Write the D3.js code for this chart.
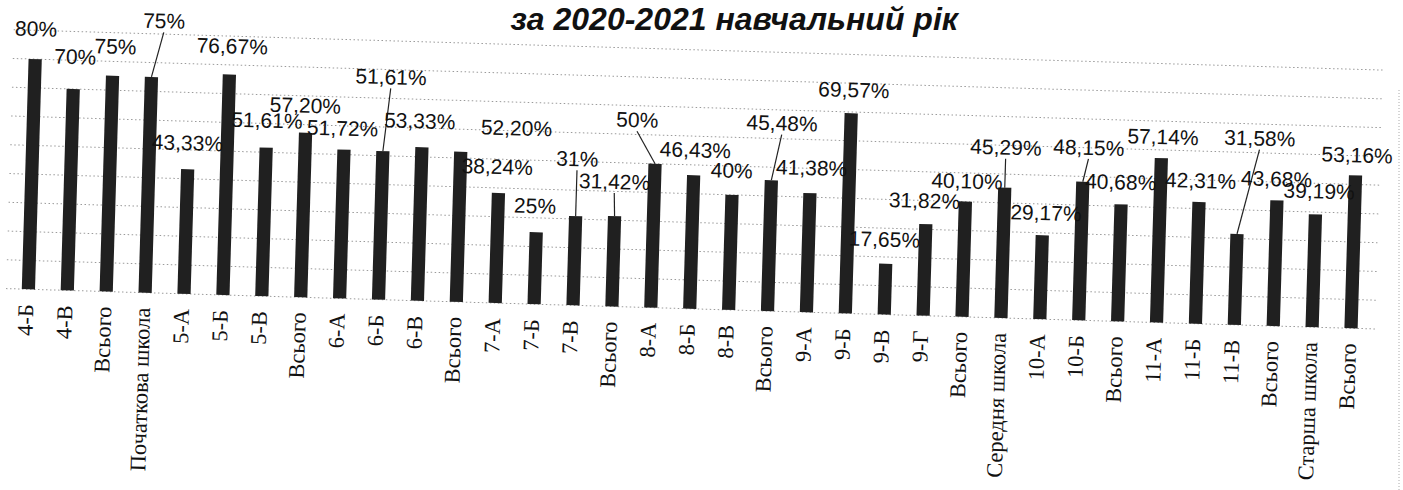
<!DOCTYPE html>
<html><head><meta charset="utf-8">
<script src="https://cdn.jsdelivr.net/npm/d3@7"></script>
<style>html,body{margin:0;padding:0;background:#fff;}svg{display:block;}</style>
</head><body>
<svg id="chart" width="1403" height="490"></svg>
<script>
const categories = ["4-Б","4-В","Всього","Початкова школа","5-А","5-Б","5-В","Всього","6-А","6-Б","6-В","Всього","7-А","7-Б","7-В","Всього","8-А","8-Б","8-В","Всього","9-А","9-Б","9-В","9-Г","Всього","Середня школа","10-А","10-Б","Всього","11-А","11-Б","11-В","Всього","Старша школа","Всього"];
const values = [80,70,75,75,43.33,76.67,51.61,57.20,51.72,51.61,53.33,52.20,38.24,25,31,31.42,50,46.43,40,45.48,41.38,69.57,17.65,31.82,40.10,45.29,29.17,48.15,40.68,57.14,42.31,31.58,43.68,39.19,53.16];
const yTicks = [0,10,20,30,40,50,60,70,80,90];
const titleText = "за 2020-2021 навчальний рік";
// manual label placement (as in the original chart), offsets from bar top
const labelNudge = [[0,-23],[1,-25],[2,-22],[11,-49],[-1,-19],[2,-21],[0,-20],[-1,-20],[-2,-14],[6,-67],[-3,-19],[55,-18],[-2,-19],[-2,-19],[0,-50],[-1,-27],[-19,-36],[1,-18],[-1,-17],[9,-50],[1,-18],[2,-16],[-2,-17],[-2,-16],[1,-13],[0,-33],[3,-15],[5,-27],[-1,-15],[1,-14],[1,-14],[20,-89],[-1,-14],[3,-16],[1,-13]];
const leaders = [3,9,14,15,16,19,25,27,31];

const svg = d3.select("#chart");
const g = svg.append("g").attr("transform","rotate(1.69,20,289)");

const idx = categories.map((c,i)=>i);
const x = d3.scaleBand().domain(idx).range([14,1366]).paddingInner(0.66).paddingOuter(0.2);
const y = d3.scaleLinear().domain([0,90]).range([289,30]);

// gridlines
g.append("g").selectAll("line").data(yTicks).join("line")
  .attr("x1",6).attr("x2",1376)
  .attr("y1",d=>y(d)).attr("y2",d=>y(d))
  .attr("stroke","#9a9a9a").attr("stroke-width",1).attr("stroke-dasharray","1.5,2.5");

// bars
g.append("g").selectAll("rect").data(values).join("rect")
  .attr("x",(d,i)=>x(i)).attr("width",x.bandwidth())
  .attr("y",d=>y(d)).attr("height",d=>y(0)-y(d))
  .attr("fill","#202020");

const fmt = v => Number.isInteger(v) ? v + "%" : v.toFixed(2).replace(".",",") + "%";
const cx = i => x(i) + x.bandwidth()/2;

// leader lines
g.append("g").selectAll("line").data(leaders).join("line")
  .attr("x1",i=>cx(i)+labelNudge[i][0]).attr("y1",i=>y(values[i])+labelNudge[i][1]+4)
  .attr("x2",i=>cx(i)).attr("y2",i=>y(values[i]))
  .attr("stroke","#222").attr("stroke-width",1.2);

// data labels
g.append("g").selectAll("text").data(values).join("text")
  .attr("x",(d,i)=>cx(i)+labelNudge[i][0])
  .attr("y",(d,i)=>y(d)+labelNudge[i][1])
  .attr("text-anchor","middle")
  .attr("font-family","'Liberation Sans', Arial, sans-serif")
  .attr("font-size",21).attr("fill","#111")
  .text(d=>fmt(d));

// category labels
g.append("g").selectAll("text").data(categories).join("text")
  .attr("transform",(d,i)=>`translate(${cx(i)-2},${y(0)+15}) rotate(-90)`)
  .attr("text-anchor","end").attr("dominant-baseline","central")
  .attr("font-family","'Liberation Serif', 'Times New Roman', serif")
  .attr("font-size",22.5).attr("fill","#111")
  .text(d=>d);

// title
svg.append("text").attr("x",958).attr("y",30).attr("text-anchor","end")
  .attr("font-family","'Liberation Sans', Arial, sans-serif")
  .attr("font-weight","bold").attr("font-style","italic")
  .attr("font-size",32).attr("fill","#111").text(titleText);

// scan border
svg.append("line").attr("x1",1399).attr("x2",1399).attr("y1",90).attr("y2",490)
  .attr("stroke","#aaa").attr("stroke-dasharray","1,2");
</script>
</body></html>
